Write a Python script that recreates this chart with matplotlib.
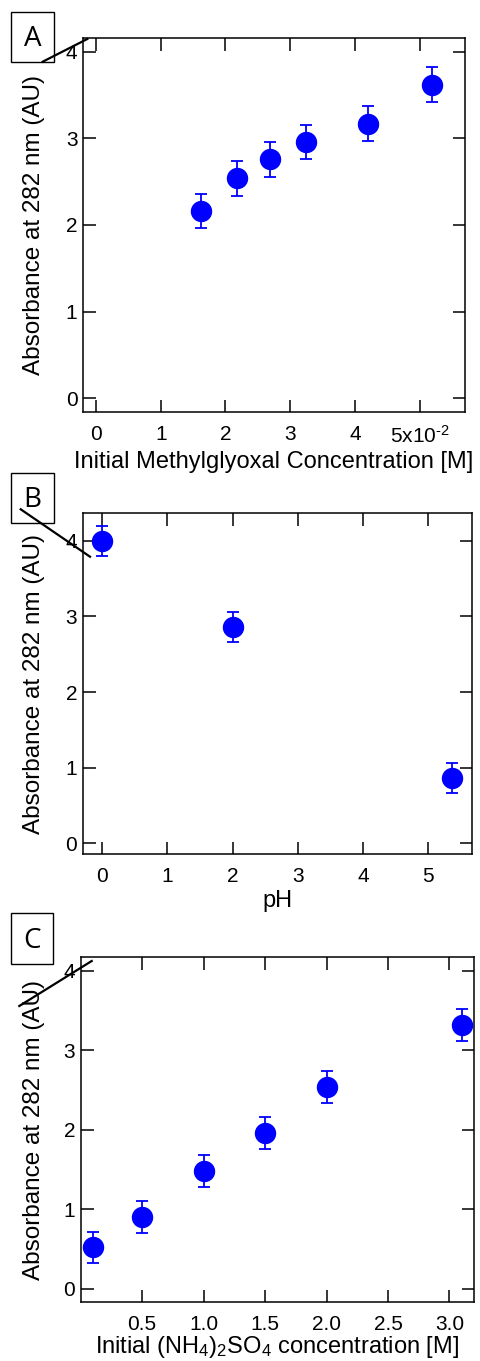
import matplotlib
matplotlib.use("Agg")
import matplotlib.pyplot as plt
from matplotlib.lines import Line2D
from matplotlib.patches import Rectangle

plt.rcParams['font.family'] = ['Liberation Sans', 'DejaVu Sans']
plt.rcParams['mathtext.fontset'] = 'custom'
plt.rcParams['mathtext.rm'] = 'Liberation Sans'
plt.rcParams['mathtext.it'] = 'Liberation Sans:italic'
plt.rcParams['mathtext.bf'] = 'Liberation Sans:bold'

# ---- data ----
a_conc = [1.62, 2.18, 2.69, 3.24, 4.20, 5.19]          # x 1e-2 M
a_abs = [2.16, 2.54, 2.76, 2.96, 3.17, 3.62]
a_err = [0.20, 0.20, 0.20, 0.20, 0.20, 0.20]
a_xticks = [0, 1, 2, 3, 4, 5]
a_xticklabels = ['0', '1', '2', '3', '4', r'5x10$^{\text{-}2}$']

b_ph = [0.0, 2.0, 5.37]
b_abs = [4.00, 2.86, 0.86]
b_err = [0.20, 0.20, 0.20]
b_xticks = [0, 1, 2, 3, 4, 5]

c_conc = [0.10, 0.50, 1.00, 1.50, 2.00, 3.10]
c_abs = [0.52, 0.90, 1.48, 1.96, 2.54, 3.32]
c_err = [0.20, 0.20, 0.20, 0.20, 0.20, 0.20]
c_xticks = [0.5, 1.0, 1.5, 2.0, 2.5, 3.0]
c_xticklabels = ['0.5', '1.0', '1.5', '2.0', '2.5', '3.0']

y_ticks = [0, 1, 2, 3, 4]
ylabel = 'Absorbance at 282 nm (AU)'

W, H = 480, 1361
fig = plt.figure(figsize=(W / 100, H / 100), dpi=100)


def add_ax(l, t, r, b):
    return fig.add_axes([l / W, 1 - b / H, (r - l) / W, (b - t) / H])


def style(ax, xlim, ylim, left_px):
    ax.set_xlim(*xlim)
    ax.set_ylim(*ylim)
    ax.set_yticks(y_ticks)
    for s in ax.spines.values():
        s.set_linewidth(1.1)
    ax.tick_params(direction='in', length=9, width=1.1, top=True, right=True,
                   labelsize=15, colors='black')
    ax.tick_params(axis='x', pad=9)
    ax.tick_params(axis='y', pad=4)
    ax.set_ylabel(ylabel, fontsize=17.5)
    w_px = ax.get_position().width * W
    ax.yaxis.set_label_coords((45 - left_px) / w_px, 0.5)


def draw(ax, x, y, e):
    ax.errorbar(x, y, yerr=e, fmt='o', color='#0000FF', markersize=14.4,
                ecolor='#0000FF', elinewidth=1.3, capsize=4.5, capthick=1.3)


axA = add_ax(83, 38, 465, 412)
draw(axA, a_conc, a_abs, a_err)
style(axA, (-0.2, 5.7), (-0.16, 4.16), 83)
axA.set_xticks(a_xticks)
axA.set_xticklabels(a_xticklabels)
axA.set_xlabel('Initial Methylglyoxal Concentration [M]', fontsize=17, labelpad=3)

axB = add_ax(82.7, 512.7, 472, 854.3)
draw(axB, b_ph, b_abs, b_err)
style(axB, (-0.3, 5.67), (-0.145, 4.37), 82.7)
axB.set_xticks(b_xticks)
axB.set_xlabel('pH', fontsize=17, labelpad=3)

axC = add_ax(80.7, 957.3, 474, 1302.3)
draw(axC, c_conc, c_abs, c_err)
style(axC, (0.0, 3.2), (-0.17, 4.17), 80.7)
axC.set_xticks(c_xticks)
axC.set_xticklabels(c_xticklabels)
axC.set_xlabel(r'Initial (NH$_4$)$_2$SO$_4$ concentration [M]', fontsize=17, labelpad=0)

# panel letters in boxes (box corners in pixels)
for letter, (x0, y0, x1, y1) in zip(['A', 'B', 'C'],
                                    [(10.7, 12.3, 54.0, 62.3),
                                     (10.7, 473.3, 54.3, 523.3),
                                     (10.7, 913.3, 52.7, 964.0)]):
    fig.add_artist(Rectangle((x0 / W, 1 - y1 / H), (x1 - x0) / W, (y1 - y0) / H,
                             transform=fig.transFigure, fc='white', ec='black', lw=1.0))
    fig.text((x0 + x1) / 2 / W, 1 - ((y0 + y1) / 2 + 2) / H, letter, fontsize=20,
             family=['Open Sans', 'DejaVu Sans'], ha='center', va='center')

# stray diagonal strokes present in the original figure
for (x0, y0, x1, y1) in [(42.7, 61.7, 87.3, 39.0), (20.7, 509.3, 90.0, 556.7),
                         (19.3, 1006.0, 91.7, 961.0)]:
    fig.add_artist(Line2D([x0 / W, x1 / W], [1 - y0 / H, 1 - y1 / H],
                          transform=fig.transFigure, color='black', lw=1.6))

fig.savefig('out.png', dpi=100)
